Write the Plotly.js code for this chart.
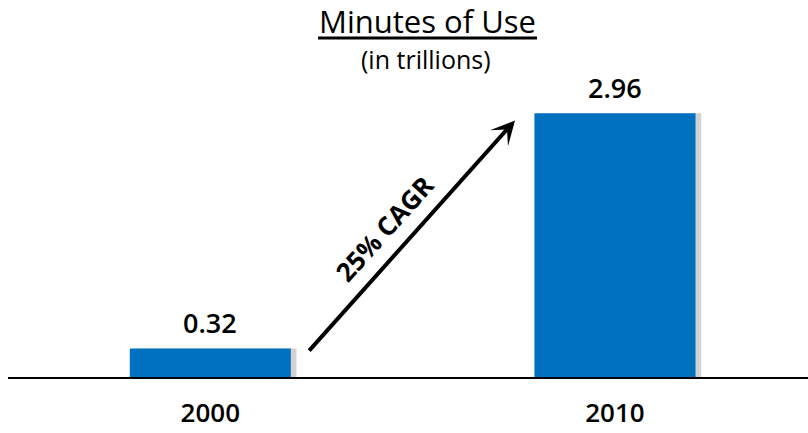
<!DOCTYPE html>
<html><head><meta charset="utf-8">
<script src="https://cdn.plot.ly/plotly-3.0.1.min.js"></script>
<style>html,body{margin:0;padding:0;background:#fff}#c{width:808px;height:433px}</style>
</head><body><div id="c"></div>
<script>
var categories = ['2000', '2010'];
var values = [0.32, 2.96];
var valueLabels = ['0.32', '2.96'];
var growthLabel = '25% CAGR';
var chartTitle = 'Minutes of Use';
var chartSubtitle = '(in trillions)';

var FONT = 'Open Sans, DejaVu Sans, sans-serif';
var BLUE = '#0070C0';

var shadow = {
  type: 'bar', x: categories, y: values,
  width: 0.398, offset: -0.199 + 0.014,
  marker: {color: 'rgba(0,0,0,0.18)', line: {width: 0}},
  hoverinfo: 'skip', showlegend: false
};
var bars = {
  type: 'bar', x: categories, y: values,
  width: 0.398, offset: -0.199,
  marker: {color: BLUE, line: {width: 0}},
  showlegend: false
};

var annotations = categories.map(function (c, i) {
  return {x: i, y: values[i], xref: 'x', yref: 'y', text: valueLabels[i],
    showarrow: false, yanchor: 'bottom', yshift: 5,
    font: {family: FONT, size: 27, color: '#000', weight: 600}};
});
// growth arrow from first bar towards second bar
annotations.push({
  xref: 'x', yref: 'y', axref: 'x', ayref: 'y',
  x: 0.753, y: values[1] - 0.08, ax: 0.241, ay: values[0] - 0.04,
  showarrow: true, arrowhead: 3, arrowsize: 1, arrowwidth: 4, arrowcolor: '#000',
  text: ''
});
annotations.push({
  xref: 'x', yref: 'y', x: 0.431, y: 1.67, text: growthLabel,
  showarrow: false, textangle: -48, font: {family: FONT, size: 26, color: '#000', weight: 'bold'}
});
annotations.push({
  xref: 'paper', yref: 'paper', x: 0.524, y: (377 - 21) / 294, yanchor: 'middle',
  text: chartTitle, showarrow: false,
  font: {family: FONT, size: 31, color: '#000'}
});
annotations.push({
  xref: 'paper', yref: 'paper', x: 0.522, y: (377 - 59) / 294, yanchor: 'middle',
  text: chartSubtitle, showarrow: false,
  font: {family: FONT, size: 25, color: '#000'}
});

var layout = {
  width: 808, height: 433,
  margin: {l: 8, r: 0, t: 83, b: 56},
  paper_bgcolor: '#fff', plot_bgcolor: '#fff',
  barmode: 'overlay',
  xaxis: {
    type: 'category', range: [-0.5, 1.477],
    showline: true, linecolor: '#000', linewidth: 2,
    showgrid: false, zeroline: false, ticks: '',
    ticklabelstandoff: 12,
    tickfont: {family: FONT, size: 26, color: '#000', weight: 600}
  },
  yaxis: {range: [0, 3.3], visible: false, showgrid: false, zeroline: false},
  shapes: [{
    type: 'line', xref: 'paper', yref: 'paper',
    x0: (318 - 8) / 800, x1: (537 - 8) / 800,
    y0: (377 - 38) / 294, y1: (377 - 38) / 294,
    line: {color: '#000', width: 3}
  }],
  annotations: annotations
};

Plotly.newPlot('c', [shadow, bars], layout, {displayModeBar: false, staticPlot: true});
</script>
</body></html>
